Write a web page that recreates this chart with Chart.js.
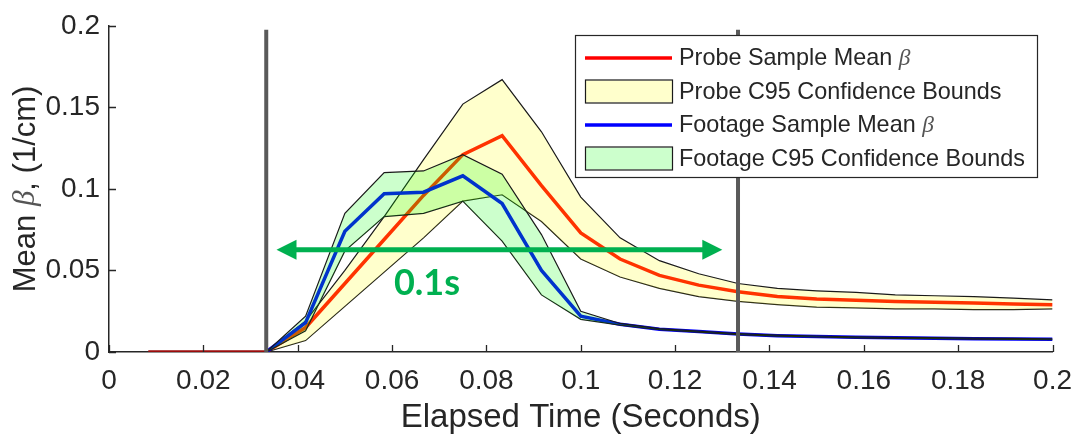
<!DOCTYPE html>
<html>
<head>
<meta charset="utf-8">
<script src="https://cdn.jsdelivr.net/npm/chart.js@4.4.1/dist/chart.umd.min.js"></script>
<style>
  html, body { margin: 0; padding: 0; background: #ffffff; }
  #wrap { width: 1084px; height: 442px; }
</style>
</head>
<body>
<div id="wrap"><canvas id="c" width="1084" height="442"></canvas></div>
<script>
// Sample times (s), one frame every 1/120 s
const timeSec = [0.00833, 0.01667, 0.025, 0.03333, 0.04167, 0.05, 0.05833, 0.06667, 0.075, 0.08333,
  0.09167, 0.1, 0.10833, 0.11667, 0.125, 0.13333, 0.14167, 0.15, 0.15833, 0.16667,
  0.175, 0.18333, 0.19167, 0.2];

// Probe: sample mean and 95% confidence bounds (1/cm)
const probeMean = [0, 0, 0, 0, 0.015, 0.042, 0.069, 0.096, 0.121, 0.1327,
  0.102, 0.073, 0.057, 0.047, 0.041, 0.037, 0.034, 0.0325, 0.0318, 0.031,
  0.0305, 0.030, 0.0295, 0.029];
const probeUpper = [null, null, null, 0, 0.019, 0.050, 0.083, 0.118, 0.152, 0.167,
  0.135, 0.095, 0.070, 0.056, 0.048, 0.042, 0.039, 0.0375, 0.0365, 0.035,
  0.0345, 0.034, 0.033, 0.032];
const probeLower = [null, null, null, 0, 0.007, 0.028, 0.049, 0.070, 0.0925, 0.0964,
  0.080, 0.057, 0.046, 0.039, 0.034, 0.031, 0.029, 0.0275, 0.027, 0.0265,
  0.0265, 0.026, 0.026, 0.0265];

// Footage: sample mean and 95% confidence bounds (1/cm)
const footageMean = [null, null, null, 0, 0.018, 0.074, 0.097, 0.098, 0.108, 0.091,
  0.050, 0.022, 0.017, 0.014, 0.0125, 0.011, 0.010, 0.0095, 0.009, 0.0087,
  0.0085, 0.0082, 0.008, 0.0078];
const footageUpper = [null, null, null, 0, 0.022, 0.085, 0.110, 0.111, 0.121, 0.109,
  0.072, 0.025, 0.0175, 0.0143, 0.0128, 0.0113, 0.0103, 0.0098, 0.0093, 0.009,
  0.0088, 0.0085, 0.0083, 0.0081];
const footageLower = [null, null, null, 0, 0.013, 0.062, 0.083, 0.085, 0.0925, 0.068,
  0.035, 0.020, 0.0165, 0.0137, 0.0122, 0.0107, 0.0097, 0.0092, 0.0087, 0.0084,
  0.0082, 0.0079, 0.0077, 0.0075];

// Window markers (s) and their height
const cutTimes = [0.03333, 0.13333];
const cutTop = 0.1976;

// Window span annotation
const spanFrom = 0.0355;
const spanTo = 0.1300;
const spanLevel = 0.0627;
const spanText = '0.1s';
const spanTextAt = [0.0674, 0.042];

// Axis ticks
const xTicks = [0, 0.02, 0.04, 0.06, 0.08, 0.1, 0.12, 0.14, 0.16, 0.18, 0.2];
const xTickLabels = ['0', '0.02', '0.04', '0.06', '0.08', '0.1', '0.12', '0.14', '0.16', '0.18', '0.2'];
const yTicks = [0, 0.05, 0.1, 0.15, 0.2];
const yTickLabels = ['0', '0.05', '0.1', '0.15', '0.2'];

const xTitle = 'Elapsed Time (Seconds)';
const yTitle = 'Mean β, (1/cm)';

const AXIS = '#262626';
const SANS = '"Liberation Sans", Arial, Helvetica, sans-serif';
const SERIF = '"Liberation Serif", "DejaVu Serif", serif';

function toPoints(values) {
  const out = [];
  values.forEach((v, i) => { if (v !== null) out.push({ x: timeSec[i], y: v }); });
  return out;
}

// Draws text, setting any Greek letter in an italic serif face
function drawRich(ctx, text, x, y, size, color) {
  const parts = text.split(/(β)/);
  let w = 0;
  const fonts = parts.map(p => p === 'β' ? `italic ${size}px ${SERIF}` : `${size}px ${SANS}`);
  parts.forEach((p, i) => { ctx.font = fonts[i]; w += ctx.measureText(p).width; });
  return {
    width: w,
    draw(align) {
      let cx = align === 'center' ? x - w / 2 : x;
      ctx.textAlign = 'left';
      ctx.textBaseline = 'middle';
      parts.forEach((p, i) => {
        ctx.font = fonts[i];
        ctx.fillStyle = p === 'β' ? '#555555' : color;
        ctx.fillText(p, cx, y);
        cx += ctx.measureText(p).width;
      });
    }
  };
}

// the baseline stretch before onset sits on the axis and reads darker
const flatSegment = c => (c.p0.parsed.y === 0 && c.p1.parsed.y === 0) ? '#9a0c0c' : undefined;

const datasets = [
  { label: 'Probe Sample Mean β', data: toPoints(probeMean), borderColor: '#ff0000', borderWidth: 3.5,
    pointRadius: 0, fill: false, order: 4, legendKind: 'line', segment: { borderColor: flatSegment } },
  { label: 'Probe C95 Confidence Bounds', data: toPoints(probeUpper), borderColor: '#1a1a1a', borderWidth: 1.2,
    pointRadius: 0, fill: '+1', backgroundColor: 'rgba(255,255,0,0.2)', order: 3, legendKind: 'box' },
  { label: 'probe-lower', data: toPoints(probeLower), borderColor: '#1a1a1a', borderWidth: 1.2,
    pointRadius: 0, fill: false, order: 3 },
  { label: 'Footage Sample Mean β', data: toPoints(footageMean), borderColor: '#0000ff', borderWidth: 3.5,
    pointRadius: 0, fill: false, order: 2, legendKind: 'line' },
  { label: 'Footage C95 Confidence Bounds', data: toPoints(footageUpper), borderColor: '#1a1a1a', borderWidth: 1.2,
    pointRadius: 0, fill: '+1', backgroundColor: 'rgba(0,255,0,0.2)', order: 1, legendKind: 'box' },
  { label: 'footage-lower', data: toPoints(footageLower), borderColor: '#1a1a1a', borderWidth: 1.2,
    pointRadius: 0, fill: false, order: 1 },
];
cutTimes.forEach((t, i) => {
  datasets.push({ label: 'cut' + i, data: [{ x: t, y: 0 }, { x: t, y: cutTop }], borderColor: '#5a5a5a',
    borderWidth: 4, pointRadius: 0, fill: false, order: 0 });
});
const legendItems = [0, 1, 3, 4];

const overlay = {
  id: 'overlay',
  afterDraw(chart) {
    const ctx = chart.ctx;
    const xs = chart.scales.x, ys = chart.scales.y;
    const area = chart.chartArea;
    ctx.save();

    // inward tick marks
    ctx.strokeStyle = AXIS;
    ctx.lineWidth = 1.3;
    ctx.beginPath();
    xTicks.forEach(v => {
      const px = Math.round(xs.getPixelForValue(v)) + 0.5;
      ctx.moveTo(px, area.bottom); ctx.lineTo(px, area.bottom - 7);
    });
    yTicks.forEach(v => {
      const py = Math.round(ys.getPixelForValue(v)) + 0.5;
      ctx.moveTo(area.left, py); ctx.lineTo(area.left + 7, py);
    });
    ctx.stroke();

    // y-axis title
    ctx.save();
    ctx.translate(26, (area.top + area.bottom) / 2);
    ctx.rotate(-Math.PI / 2);
    drawRich(ctx, yTitle, 0, 0, 31, AXIS).draw('center');
    ctx.restore();

    // span arrow
    const ax0 = xs.getPixelForValue(spanFrom), ax1 = xs.getPixelForValue(spanTo);
    const ay = ys.getPixelForValue(spanLevel);
    const head = 20, half = 10;
    ctx.strokeStyle = '#00b050';
    ctx.fillStyle = '#00b050';
    ctx.lineWidth = 5;
    ctx.beginPath();
    ctx.moveTo(ax0 + head - 2, ay); ctx.lineTo(ax1 - head + 2, ay);
    ctx.stroke();
    ctx.beginPath();
    ctx.moveTo(ax0, ay); ctx.lineTo(ax0 + head, ay - half); ctx.lineTo(ax0 + head, ay + half); ctx.closePath();
    ctx.fill();
    ctx.beginPath();
    ctx.moveTo(ax1, ay); ctx.lineTo(ax1 - head, ay - half); ctx.lineTo(ax1 - head, ay + half); ctx.closePath();
    ctx.fill();
    ctx.font = `bold 36px Lato, "Open Sans", sans-serif`;
    ctx.textAlign = 'center';
    ctx.textBaseline = 'middle';
    ctx.fillText(spanText, xs.getPixelForValue(spanTextAt[0]), ys.getPixelForValue(spanTextAt[1]));

    // legend
    const L = 575, T = 35, R = 1037, B = 177;
    ctx.fillStyle = '#ffffff';
    ctx.fillRect(L, T, R - L, B - T);
    ctx.strokeStyle = AXIS;
    ctx.lineWidth = 1.2;
    ctx.strokeRect(L + 0.5, T + 0.5, R - L, B - T);
    const rowH = 33.5, firstRow = T + 23;
    legendItems.forEach((di, r) => {
      const ds = chart.data.datasets[di];
      const cy = firstRow + r * rowH;
      if (ds.legendKind === 'line') {
        ctx.strokeStyle = ds.borderColor;
        ctx.lineWidth = ds.borderWidth;
        ctx.beginPath(); ctx.moveTo(585, cy); ctx.lineTo(672, cy); ctx.stroke();
      } else {
        ctx.fillStyle = ds.backgroundColor;
        ctx.fillRect(585, cy - 11, 87, 22);
        ctx.strokeStyle = ds.borderColor;
        ctx.lineWidth = 1.2;
        ctx.strokeRect(585.5, cy - 11.5, 87, 23);
      }
      drawRich(ctx, ds.label, 679, cy + 1, 23.4, AXIS).draw('left');
    });
    ctx.restore();
  }
};

new Chart(document.getElementById('c'), {
  type: 'line',
  data: { datasets },
  options: {
    responsive: false,
    animation: false,
    devicePixelRatio: 1,
    layout: { padding: { left: 0, top: 16, right: 24, bottom: 0 } },
    plugins: { legend: { display: false }, tooltip: { enabled: false } },
    elements: { line: { tension: 0 } },
    scales: {
      x: {
        type: 'linear', min: 0, max: 0.2, z: 1,
        afterBuildTicks: s => { s.ticks = xTicks.map(v => ({ value: v })); },
        afterFit: s => { s.height = 90; },
        ticks: {
          callback: (v, i) => xTickLabels[i],
          autoSkip: false, maxRotation: 0, padding: 12,
          color: AXIS, font: { family: SANS, size: 28 }
        },
        grid: { display: true, drawOnChartArea: false, drawTicks: false },
        border: { display: true, color: AXIS, width: 1.5 },
        title: { display: true, text: xTitle, color: AXIS, font: { family: SANS, size: 33 }, padding: { top: 0 } }
      },
      y: {
        type: 'linear', min: 0, max: 0.2, z: 1,
        afterBuildTicks: s => { s.ticks = yTicks.map(v => ({ value: v })); },
        afterFit: s => { s.width = 109; },
        ticks: {
          callback: (v, i) => yTickLabels[i],
          autoSkip: false, padding: 9,
          color: AXIS, font: { family: SANS, size: 28 }
        },
        grid: { display: true, drawOnChartArea: false, drawTicks: false },
        border: { display: true, color: AXIS, width: 1.5 }
      }
    }
  },
  plugins: [overlay]
});
</script>
</body>
</html>
